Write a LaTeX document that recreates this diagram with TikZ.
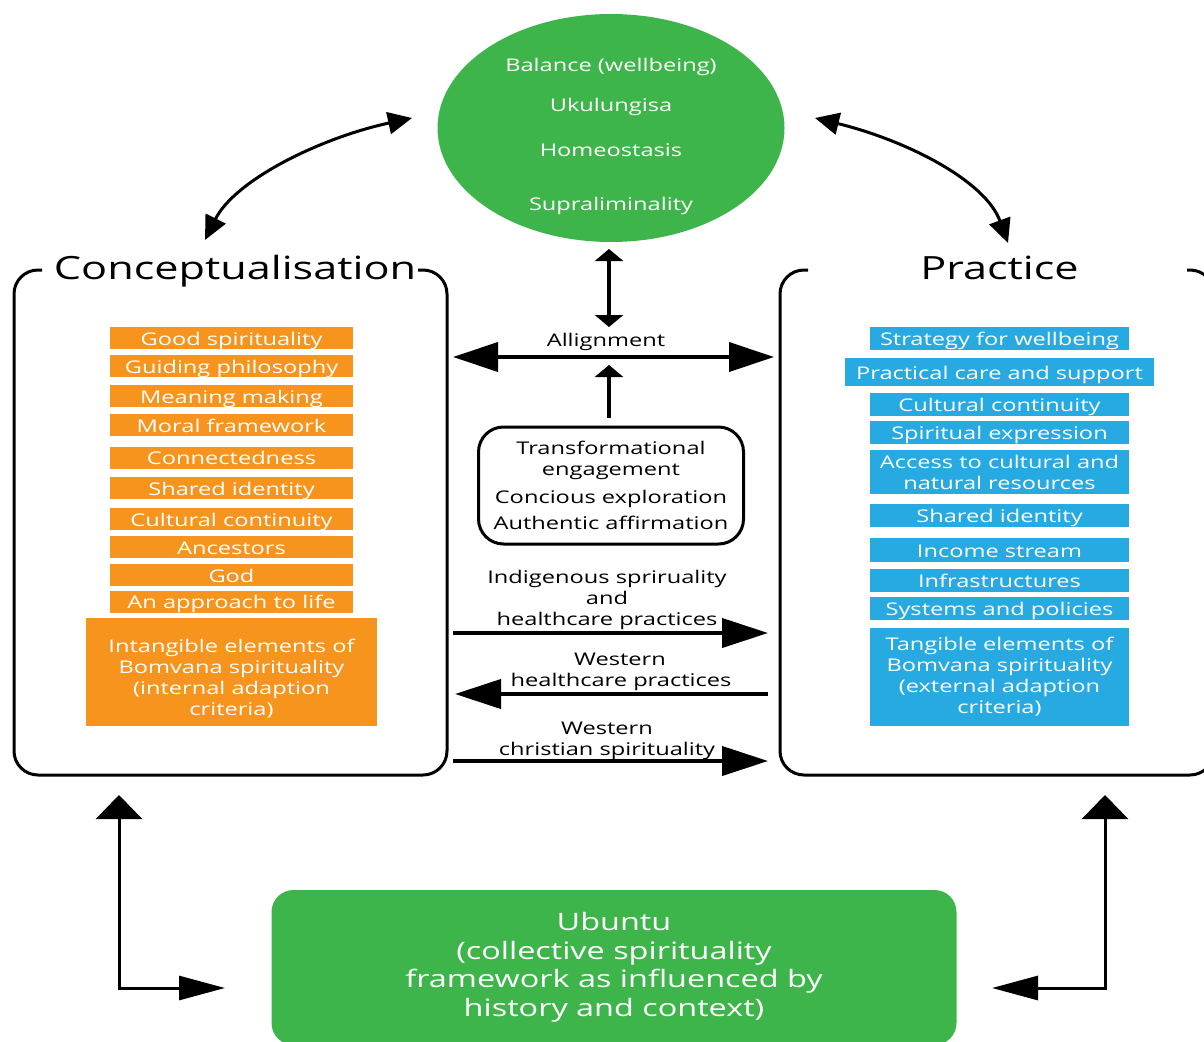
\documentclass[tikz,border=0pt]{standalone}
\usepackage{fontspec}
\setmainfont{Open Sans}[FakeStretch=1.35]
\usetikzlibrary{arrows.meta,
                    shapes.geometric,
                    positioning}
\definecolor{verde}{HTML}{3DB54A}
\definecolor{laranja}{HTML}{F7941D}
\definecolor{azul}{HTML}{27AAE1}
\tikzset{
moldura/.style = {line width=3pt, rounded corners=24pt}
                }
\tikzset{
texto/.style = {inner sep=0pt, font=\fontsize{17.5}{20.5}\selectfont},
textob/.style = {texto, text=white},
titulo/.style = {inner sep=0pt, font=\fontsize{32}{38}\selectfont}
         }
\tikzset{
caixaL/.style = {fill=laranja, text=white, minimum width=243pt, minimum height=22pt,
    inner sep=0pt, text height=14pt, text depth=0pt, font=\fontsize{17.5}{21}\selectfont},
caixaA/.style = {fill=azul, text=white, minimum width=259pt, minimum height=23pt,
    inner sep=0pt, text height=14pt, text depth=0pt, font=\fontsize{17.5}{21}\selectfont},
circulo/.style = {ellipse, fill=verde, minimum width=347pt, minimum height=228pt, inner sep=0pt}
}
\tikzset{
seta/.style = {line width=4pt, -{Triangle[length=46pt, width=29pt]}},
setadupla/.style = {line width=4pt, {Triangle[length=45pt, width=29pt]}-{Triangle[length=45pt, width=29pt]}},
setacurta/.style = {line width=3.5pt, {Triangle[length=12pt, width=28pt]}-{Triangle[length=12pt, width=28pt]}},
setacurva/.style = {line width=3pt, {Triangle[length=24pt, width=22pt]}-{Triangle[length=24pt, width=22pt]}},
setaL/.style = {line width=3pt, {Triangle[length=24pt, width=46pt]}-{Triangle[length=46pt, width=24pt]}}
}

\begin{document}
\begin{tikzpicture}[x=1pt,y=-1pt]
        \useasboundingbox (0,0) rectangle (1204,1041);
        \clip (0,0) rectangle (1204,1041);

        % equilibrio
        \node[circulo] (equil) at (611,128) {};
        \node[textob, anchor=base] (eq1) at (611,71) {Balance (wellbeing)};
        \node[textob, anchor=base] (eq2) at (611,111) {Ukulungisa};
        \node[textob, anchor=base] (eq3) at (611,156) {Homeostasis};
        \node[textob, anchor=base] (eq4) at (611,210) {Supraliminality};

        % conceptualisation
        \node[titulo, anchor=base] (tconc) at (235,279) {Conceptualisation};
        \draw[moldura] (42,270) -- (14,270) -- (14,775) -- (447,775) -- (447,270) -- (418,270);

        \node[caixaL] (c1) at (231.5,338) {Good spirituality};
        \node[caixaL] (c2) at (231.5,366) {Guiding philosophy};
        \node[caixaL] (c3) at (231.5,396) {Meaning making};
        \node[caixaL] (c4) at (231.5,425) {Moral framework};
        \node[caixaL] (c5) at (231.5,457.5) {Connectedness};
        \node[caixaL] (c6) at (231.5,488) {Shared identity};
        \node[caixaL] (c7) at (231.5,519) {Cultural continuity};
        \node[caixaL] (c8) at (231.5,547) {Ancestors};
        \node[caixaL] (c9) at (231.5,575) {God};
        \node[caixaL] (c10) at (231.5,601.5) {An approach to life};
        \node[caixaL, minimum width=291pt, minimum height=108pt] (c11) at (231.5,672) {};
        \node[textob, align=center, font=\fontsize{17.5}{21}\selectfont] (c11t) at ([yshift=-7pt]c11.center)
            {Intangible elements of\\Bomvana spirituality\\(internal adaption\\criteria)};

        % practice
        \node[titulo, anchor=base] (tprat) at (999.5,279) {Practice};
        \draw[moldura] (808,270) -- (780,270) -- (780,775) -- (1214,775) -- (1214,270) -- (1187,270);

        \node[caixaA] (p1) at (999.5,338.5) {Strategy for wellbeing};
        \node[caixaA, minimum width=309pt, minimum height=28pt] (p2) at (999.5,372) {Practical care and support};
        \node[caixaA] (p3) at (999.5,404.5) {Cultural continuity};
        \node[caixaA] (p4) at (999.5,432.5) {Spiritual expression};
        \node[caixaA, minimum height=44pt, text height=, text depth=, align=center] (p5) at (999.5,472)
            {Access to cultural and\\natural resources};
        \node[caixaA] (p6) at (999.5,515.5) {Shared identity};
        \node[caixaA, minimum height=24pt] (p7) at (999.5,550) {Income stream};
        \node[caixaA] (p8) at (999.5,580.5) {Infrastructures};
        \node[caixaA] (p9) at (999.5,608.5) {Systems and policies};
        \node[caixaA, minimum height=98pt, text height=, text depth=, align=center] (p10) at (999.5,677)
            {Tangible elements of\\Bomvana spirituality\\(external adaption\\criteria)};

        % centro
        \coordinate (alE) at (453,357);
        \coordinate (alD) at (774,357);
        \draw[setadupla] (alE) -- (alD);
        \node[texto, anchor=base] (alin) at (606,346) {Allignment};

        \coordinate (vA) at (609,249);
        \coordinate (vB) at (609,327);
        \draw[setacurta] (vA) -- (vB);

        \node[texto, draw, line width=3pt, rounded corners=25pt, minimum width=265pt,
            minimum height=117pt, align=center] (transf) at (611,485.5)
            {Transformational\\engagement\\[8pt]Concious exploration\\[5pt]Authentic affirmation};
        \coordinate (topo) at (609,365);
        \draw[line width=3.5pt, -{Triangle[length=12pt, width=28pt]}] ([xshift=-2pt, yshift=8pt]transf.north) -- (topo);

        \coordinate (i1) at (453,633);
        \coordinate (i2) at (768,633);
        \draw[seta] (i1) -- (i2);
        \node[texto, anchor=base] (ind1) at (607,583) {Indigenous spriruality};
        \node[texto, anchor=base] (ind2) at (607,604) {and};
        \node[texto, anchor=base] (ind3) at (607,625) {healthcare practices};

        \coordinate (w1) at (768,694);
        \coordinate (w2) at (455,694);
        \draw[seta] (w1) -- (w2);
        \node[texto, anchor=base] (wh1) at (620,665) {Western};
        \node[texto, anchor=base] (wh2) at (621,686) {healthcare practices};

        \coordinate (x1) at (453,761);
        \coordinate (x2) at (768,761);
        \draw[seta] (x1) -- (x2);
        \node[texto, anchor=base] (wc1) at (607,734) {Western};
        \node[texto, anchor=base] (wc2) at (607,755) {christian spirituality};

        % setas curvas
        \coordinate (ce1) at (205,240);
        \coordinate (ce2) at (412,118);
        \draw[setacurva] (ce1) .. controls (235,180) and (320,138) .. (ce2);
        \coordinate (cd1) at (815,118);
        \coordinate (cd2) at (1008,243);
        \draw[setacurva] (cd1) .. controls (905,140) and (985,180) .. (cd2);

        % ubuntu
        \node[fill=verde, rounded corners=22pt, minimum width=685pt, minimum height=155pt,
            text=white, align=center, font=\fontsize{24}{28.5}\selectfont] (ubu) at (614,967.5)
            {Ubuntu\\(collective spirituality\\framework as influenced by\\history and context)};

        \coordinate (be1) at (119,795);
        \coordinate (be2) at (225,988);
        \draw[setaL] (be1) -- (be1 |- be2) -- (be2);
        \coordinate (bd1) at (1105,795);
        \coordinate (bd2) at (992,988);
        \draw[setaL] (bd1) -- (bd1 |- bd2) -- (bd2);
\end{tikzpicture}
\end{document}
